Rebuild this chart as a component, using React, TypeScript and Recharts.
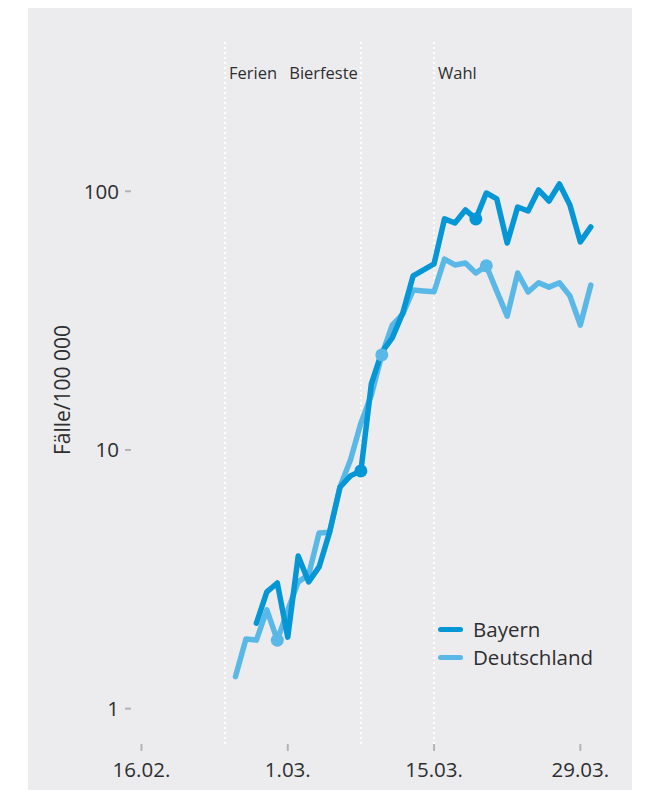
import { Legend, Line, LineChart, ReferenceLine, XAxis, YAxis } from "recharts";

// days counted from 16.02.2020 (day 0)
const days = [9, 10, 11, 12, 13, 14, 15, 16, 17, 18, 19, 20, 21, 22, 23, 24, 25, 26, 27, 28, 29, 30, 31, 32, 33, 34, 35, 36, 37, 38, 39, 40, 41, 42, 43];

const bayern = [
  null, null, 2.14, 2.83, 3.06, 1.89, 3.89, 3.09, 3.53, 4.8, 7.19, 7.94, 8.3, 18.0, 23.9, 27.1, 33.8, 47.1, 49.7, 52.4,
  78.2, 75.4, 84.7, 78.2, 98.5, 93.4, 63.1, 86.9, 83.9, 101.2, 91.7, 106.7, 88.5, 63.7, 72.8
];

const deutschland = [
  1.33, 1.86, 1.84, 2.41, 1.84, 2.4, 3.09, 3.29, 4.78, 4.81, 7.19, 9.15, 12.7, 16.3, 23.3, 30.4, 33.5, 41.5, 41.2, 40.9,
  54.7, 51.9, 52.8, 48.3, 51.5, 41.1, 32.9, 48.3, 40.8, 44.3, 42.6, 44.3, 39.4, 30.4, 43.4
];

const bayernMarkers = [21, 32];
const deutschlandMarkers = [13, 23, 33];

const xTickDays = [0, 14, 28, 42];
const xTickLabels = ["16.02.", "1.03.", "15.03.", "29.03."];
const yTicks = [1, 10, 100];

const events = [
  { day: 8, label: "Ferien", side: "right" },
  { day: 21, label: "Bierfeste", side: "left" },
  { day: 28, label: "Wahl", side: "right" }
];

const BAYERN = "#0596d6";
const DEUTSCHLAND = "#5ab8e7";
const TEXT = "#2e2e30";
const TICK = "#b4b4b6";

const data = days.map((day, i) => ({ day, bayern: bayern[i], deutschland: deutschland[i] }));

function markerDot(markDays: number[], color: string) {
  return (props: any) => {
    const { cx, cy, payload, index } = props;
    if (cy == null || !markDays.includes(payload?.day)) return <g key={`m${index}`} />;
    return <circle key={`m${index}`} cx={cx} cy={cy} r={6.5} fill={color} />;
  };
}

function EventLabel(props: any) {
  const { viewBox, text, side } = props;
  if (!viewBox) return null;
  const left = side === "left";
  return (
    <text x={viewBox.x + (left ? -3 : 4)} y={viewBox.y + 39} textAnchor={left ? "end" : "start"} fontSize={16.5} fill={TEXT}>
      {text}
    </text>
  );
}

function YTitle() {
  return (
    <text x={34} y={382} transform="rotate(-90 34 382)" textAnchor="middle" dominantBaseline="central" fontSize={21} fill={TEXT}>
      Fälle/100 000
    </text>
  );
}

const legendItems = [
  { name: "Bayern", color: BAYERN },
  { name: "Deutschland", color: DEUTSCHLAND }
];

function ChartLegend() {
  return (
    <div>
      {legendItems.map((item) => (
        <div key={item.name} style={{ display: "flex", alignItems: "center", height: 28 }}>
          <span style={{ display: "inline-block", width: 25, height: 5, borderRadius: 3, background: item.color, marginRight: 10 }} />
          <span style={{ fontSize: 20.5, color: TEXT }}>{item.name}</span>
        </div>
      ))}
    </div>
  );
}

export default function App() {
  return (
    <div style={{ marginLeft: 20, width: 604, height: 782, background: "#ececee", fontFamily: "'Open Sans', sans-serif" }}>
      <LineChart width={604} height={782} data={data} margin={{ top: 32, right: 32, bottom: 0, left: 0 }}>
        <XAxis
          dataKey="day"
          type="number"
          domain={[-1, 43.88]}
          allowDataOverflow
          ticks={xTickDays}
          tickFormatter={(v) => xTickLabels[xTickDays.indexOf(Number(v))] ?? ""}
          axisLine={false}
          tickLine={{ stroke: TICK, strokeWidth: 2 }}
          tickSize={7}
          tickMargin={11}
          height={46}
          tick={{ fill: TEXT, fontSize: 20.5 }}
        />
        <YAxis
          type="number"
          scale="log"
          domain={[0.73, 384.4]}
          allowDataOverflow
          ticks={yTicks}
          tickFormatter={(v) => String(v)}
          axisLine={false}
          tickLine={{ stroke: TICK, strokeWidth: 2 }}
          tickSize={6}
          tickMargin={6}
          width={103}
          tick={{ fill: TEXT, fontSize: 20.5 }}
          label={<YTitle />}
        />
        {events.map((e) => (
          <ReferenceLine
            key={e.label}
            x={e.day}
            stroke="#ffffff"
            strokeWidth={2}
            strokeDasharray="2 3"
            label={<EventLabel text={e.label} side={e.side} />}
          />
        ))}
        <Legend
          layout="horizontal"
          verticalAlign="middle"
          align="center"
          wrapperStyle={{ left: 410, top: 607, width: "auto" }}
          content={() => <ChartLegend />}
        />
        <Line
          type="linear"
          dataKey="deutschland"
          name="Deutschland"
          stroke={DEUTSCHLAND}
          strokeWidth={5.5}
          strokeLinejoin="round"
          strokeLinecap="round"
          dot={markerDot(deutschlandMarkers, DEUTSCHLAND)}
          activeDot={false}
          isAnimationActive={false}
        />
        <Line
          type="linear"
          dataKey="bayern"
          name="Bayern"
          stroke={BAYERN}
          strokeWidth={5.5}
          strokeLinejoin="round"
          strokeLinecap="round"
          dot={markerDot(bayernMarkers, BAYERN)}
          activeDot={false}
          isAnimationActive={false}
        />
      </LineChart>
    </div>
  );
}
